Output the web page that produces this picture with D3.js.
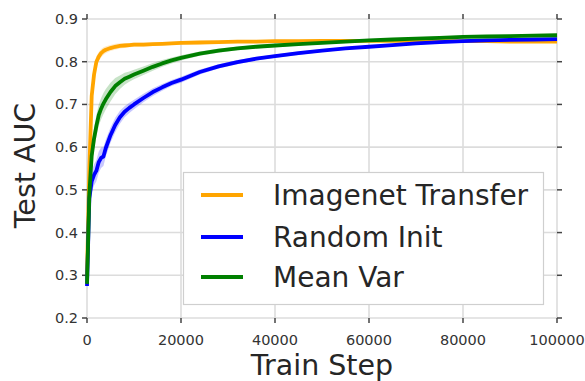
<!DOCTYPE html>
<html>
<head>
<meta charset="utf-8">
<script src="https://cdn.jsdelivr.net/npm/d3@7"></script>
<style>
  body { margin: 0; background: #fff; }
  svg { display: block; font-family: "DejaVu Sans", sans-serif; }
  .grid line { stroke: #dcdcdc; stroke-width: 1.6; }
  .tick-mark { stroke: #444; stroke-width: 1.5; }
  .tick-label { fill: #333; font-size: 14.5px; }
  .axis-label { fill: #262626; font-size: 28.5px; }
  .leg-text { fill: #262626; font-size: 28px; }
</style>
</head>
<body>
<svg id="chart" width="585" height="381"></svg>
<script>
// Training curves: mean test AUC with a shaded +/- band, one per init method.
const W = 585;
const H = 381;
const M = { left: 87, right: 28, top: 19, bottom: 63 };

const steps = [0, 500, 1000, 1500, 2000, 2500, 3000, 3500, 4000, 5000, 6000, 7000, 8000, 9000,
  10000, 12000, 14000, 16000, 18000, 20000, 24000, 28000, 32000, 36000, 40000, 45000,
  50000, 55000, 60000, 65000, 70000, 75000, 80000, 85000, 90000, 95000, 100000];

const imagenetMean = [0.30, 0.55, 0.72, 0.77, 0.80, 0.812, 0.82, 0.825, 0.828, 0.832, 0.835, 0.837, 0.838, 0.839,
  0.840, 0.840, 0.841, 0.842, 0.843, 0.844, 0.845, 0.846, 0.847, 0.847, 0.848, 0.848,
  0.849, 0.849, 0.849, 0.849, 0.849, 0.848, 0.848, 0.848, 0.847, 0.847, 0.847];
const imagenetStd = [0.01, 0.025, 0.02, 0.016, 0.013, 0.011, 0.01, 0.009, 0.008, 0.007, 0.007, 0.006, 0.006, 0.005,
  0.005, 0.005, 0.004, 0.004, 0.004, 0.004, 0.004, 0.003, 0.003, 0.003, 0.003, 0.003,
  0.003, 0.003, 0.003, 0.003, 0.003, 0.003, 0.003, 0.003, 0.003, 0.003, 0.003];

const randomMean = [0.275, 0.48, 0.52, 0.535, 0.545, 0.565, 0.575, 0.578, 0.598, 0.628, 0.652, 0.67, 0.683, 0.692,
  0.700, 0.715, 0.729, 0.740, 0.750, 0.758, 0.776, 0.789, 0.799, 0.807, 0.813, 0.82,
  0.826, 0.831, 0.835, 0.839, 0.843, 0.846, 0.848, 0.85, 0.851, 0.852, 0.853];
const randomStd = [0.01, 0.025, 0.025, 0.025, 0.025, 0.025, 0.024, 0.022, 0.02, 0.018, 0.017, 0.015, 0.013, 0.012,
  0.011, 0.01, 0.009, 0.008, 0.007, 0.007, 0.006, 0.005, 0.005, 0.004, 0.004, 0.004,
  0.003, 0.003, 0.003, 0.003, 0.003, 0.003, 0.003, 0.003, 0.003, 0.003, 0.003];

const meanVarMean = [0.28, 0.49, 0.58, 0.62, 0.65, 0.675, 0.69, 0.702, 0.712, 0.729, 0.743, 0.752, 0.76, 0.765,
  0.770, 0.779, 0.788, 0.796, 0.803, 0.809, 0.819, 0.826, 0.831, 0.835, 0.838, 0.841,
  0.844, 0.847, 0.85, 0.852, 0.854, 0.856, 0.858, 0.859, 0.86, 0.861, 0.862];
const meanVarStd = [0.01, 0.025, 0.025, 0.025, 0.025, 0.025, 0.025, 0.025, 0.024, 0.022, 0.019, 0.016, 0.014, 0.012,
  0.011, 0.01, 0.009, 0.008, 0.007, 0.006, 0.005, 0.005, 0.004, 0.004, 0.004, 0.003,
  0.003, 0.003, 0.003, 0.003, 0.003, 0.003, 0.003, 0.003, 0.003, 0.003, 0.003];

const seriesNames = ["Imagenet Transfer", "Random Init", "Mean Var"];
const seriesColors = ["#FFA500", "#0000FF", "#008000"];
const seriesMeans = [imagenetMean, randomMean, meanVarMean];
const seriesStds = [imagenetStd, randomStd, meanVarStd];

const xTicks = [0, 20000, 40000, 60000, 80000, 100000];
const yTicks = [0.2, 0.3, 0.4, 0.5, 0.6, 0.7, 0.8, 0.9];

const svg = d3.select("#chart");
const x = d3.scaleLinear().domain([0, 100000]).range([M.left, W - M.right]);
const y = d3.scaleLinear().domain([0.2, 0.9]).range([H - M.bottom, M.top]);
const x0 = x.range()[0], x1 = x.range()[1];
const y0 = y.range()[0], y1 = y.range()[1];

// ---- grid ----
const grid = svg.append("g").attr("class", "grid");
grid.selectAll("line.gx").data(xTicks).join("line")
  .attr("x1", (d) => x(d)).attr("x2", (d) => x(d))
  .attr("y1", y1).attr("y2", y0);
grid.selectAll("line.gy").data(yTicks).join("line")
  .attr("class", "gy")
  .attr("x1", x0).attr("x2", x1)
  .attr("y1", (d) => y(d)).attr("y2", (d) => y(d));

// ---- tick marks on all four sides, pointing out ----
const TL = 5;
const ticks = svg.append("g");
for (const t of xTicks) {
  ticks.append("line").attr("class", "tick-mark")
    .attr("x1", x(t)).attr("x2", x(t)).attr("y1", y0).attr("y2", y0 + TL);
  ticks.append("line").attr("class", "tick-mark")
    .attr("x1", x(t)).attr("x2", x(t)).attr("y1", y1).attr("y2", y1 - TL);
}
for (const t of yTicks) {
  ticks.append("line").attr("class", "tick-mark")
    .attr("x1", x0 - TL).attr("x2", x0).attr("y1", y(t)).attr("y2", y(t));
  ticks.append("line").attr("class", "tick-mark")
    .attr("x1", x1).attr("x2", x1 + TL).attr("y1", y(t)).attr("y2", y(t));
}

// ---- tick labels ----
svg.append("g").selectAll("text").data(xTicks).join("text")
  .attr("class", "tick-label")
  .attr("text-anchor", "middle")
  .attr("x", (d) => x(d))
  .attr("y", y0 + 27)
  .text((d) => d3.format("d")(d));
svg.append("g").selectAll("text").data(yTicks).join("text")
  .attr("class", "tick-label")
  .attr("text-anchor", "end")
  .attr("x", x0 - 9)
  .attr("y", (d) => y(d) + 5)
  .text((d) => d3.format(".1f")(d));

// ---- bands + lines ----
const band = d3.area()
  .x((d) => x(d.s))
  .y0((d) => y(d.m - d.e))
  .y1((d) => y(d.m + d.e));
const line = d3.line().x((d) => x(d.s)).y((d) => y(d.m));

const plot = svg.append("g");
seriesNames.forEach((name, k) => {
  const pts = steps.map((s, i) => ({ s, m: seriesMeans[k][i], e: seriesStds[k][i] }));
  plot.append("path").attr("d", band(pts))
    .attr("fill", seriesColors[k]).attr("fill-opacity", 0.22);
  plot.append("path").attr("d", line(pts))
    .attr("fill", "none").attr("stroke", seriesColors[k])
    .attr("stroke-width", 3.8).attr("stroke-linejoin", "round");
});

// ---- axis labels ----
svg.append("text").attr("class", "axis-label")
  .attr("text-anchor", "middle")
  .attr("x", (x0 + x1) / 2).attr("y", 375)
  .text("Train Step");
svg.append("text").attr("class", "axis-label")
  .attr("text-anchor", "middle")
  .attr("transform", `translate(35,${(y0 + y1) / 2 - 3}) rotate(-90)`)
  .text("Test AUC");

// ---- legend ----
const leg = svg.append("g");
leg.append("rect")
  .attr("x", 183.5).attr("y", 172.5).attr("width", 360).attr("height", 132)
  .attr("fill", "#fff").attr("stroke", "#cfcfcf").attr("stroke-width", 1.2);
const legY = [195, 237, 277];
seriesNames.forEach((name, k) => {
  leg.append("line")
    .attr("x1", 201).attr("x2", 243).attr("y1", legY[k]).attr("y2", legY[k])
    .attr("stroke", seriesColors[k]).attr("stroke-width", 3.8);
  leg.append("text").attr("class", "leg-text")
    .attr("x", 273).attr("y", legY[k] + 10)
    .text(name);
});
</script>
</body>
</html>
